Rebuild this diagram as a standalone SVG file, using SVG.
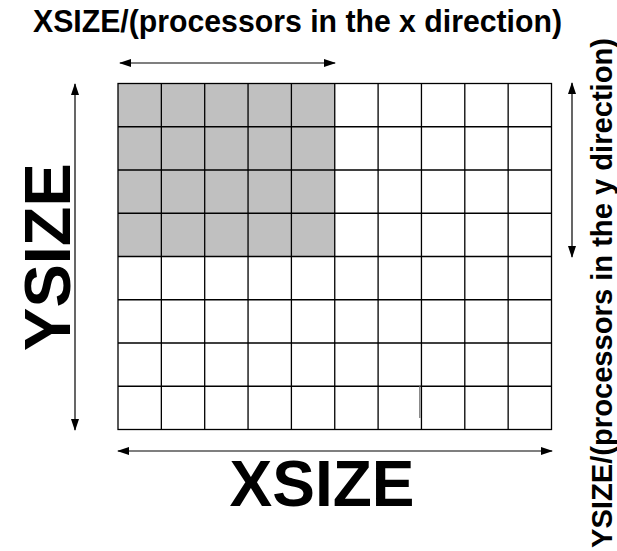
<svg xmlns="http://www.w3.org/2000/svg" width="617" height="551" viewBox="0 0 617 551">
<defs>
<style>
.g{stroke:#000;stroke-width:1.3;fill:none}
.a{stroke:#000;stroke-width:1.2;fill:none;marker-start:url(#ah);marker-end:url(#ah)}
.t{font-family:"Liberation Sans",Arial,sans-serif;font-weight:bold;fill:#000}
</style>
<marker id="ah" viewBox="0 0 12 8" refX="11" refY="4" markerWidth="12" markerHeight="8" markerUnits="userSpaceOnUse" orient="auto-start-reverse">
<path d="M0,0 L12,4 L0,8 Z" fill="#000"/>
</marker>
</defs>
<rect width="617" height="551" fill="#fff"/>
<g id="shaded">
<rect x="118" y="83.5" width="216.75" height="173" fill="#c0c0c0"/>
</g>
<g id="grid" class="g">
<rect x="118" y="83.5" width="433.5" height="346"/>
<path d="M161.35,83.5V429.5M204.7,83.5V429.5M248.05,83.5V429.5M291.4,83.5V429.5M334.75,83.5V429.5M378.1,83.5V429.5M421.45,83.5V429.5M464.8,83.5V429.5M508.15,83.5V429.5"/>
<path d="M118,126.75H551.5M118,170H551.5M118,213.25H551.5M118,256.5H551.5M118,299.75H551.5M118,343H551.5M118,386.25H551.5"/>
<path d="M419.8,386.25V418" stroke="#777"/>
</g>
<g id="connectors">
<path class="a" d="M120,63H335"/>
<path class="a" d="M118,451H552"/>
<path class="a" d="M75,84V430"/>
<path class="a" d="M572,83V257"/>
</g>
<g id="labels">
<text class="t" x="297.5" y="32" font-size="30.5" text-anchor="middle" textLength="529" lengthAdjust="spacingAndGlyphs">XSIZE/(processors in the x direction)</text>
<text class="t" x="322" y="506" font-size="64" text-anchor="middle">XSIZE</text>
<text class="t" font-size="65" text-anchor="middle" transform="translate(70,257) rotate(-90)">YSIZE</text>
<text class="t" font-size="30" text-anchor="middle" transform="translate(612,293) rotate(-90)" textLength="510" lengthAdjust="spacingAndGlyphs">YSIZE/(processors in the y direction)</text>
</g>
</svg>
